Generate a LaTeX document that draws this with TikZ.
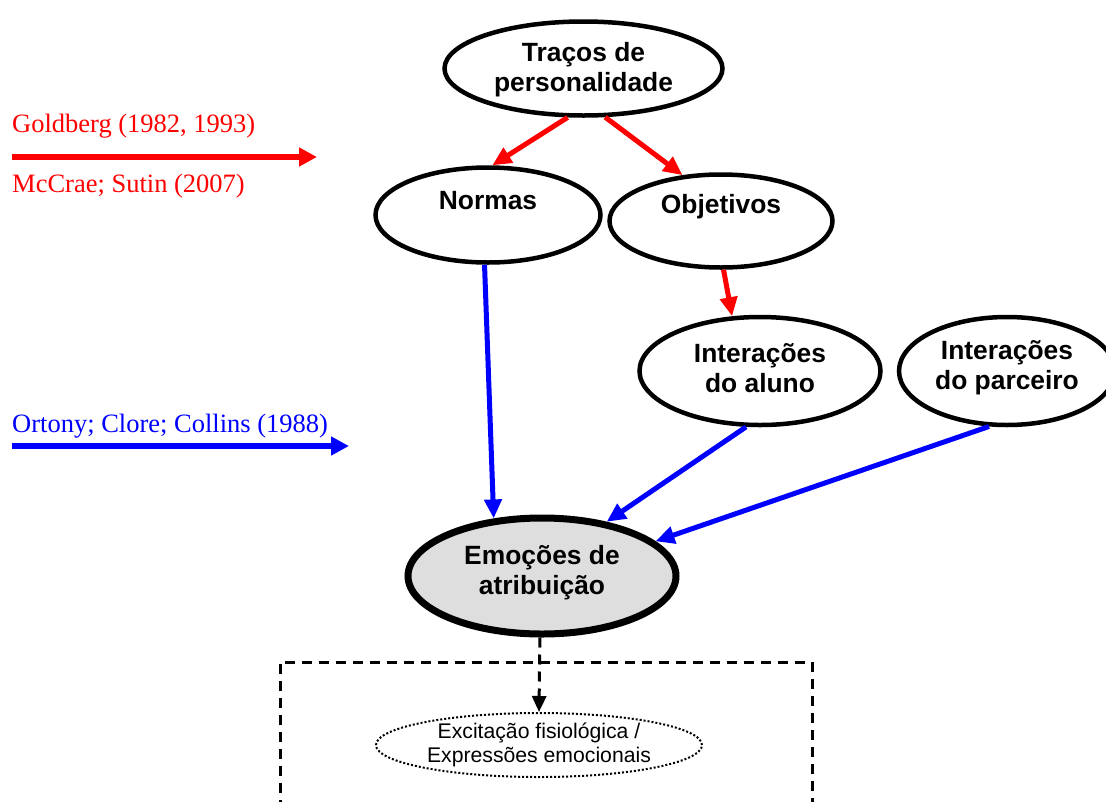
\documentclass[tikz,border=0pt]{standalone}
\usepackage{fontspec}
\setmainfont{Liberation Serif}
\setsansfont{Liberation Sans}
\usetikzlibrary{arrows.meta,shapes.geometric}
\begin{document}
\begin{tikzpicture}[x=1pt,y=-1pt,
  oval/.style={ellipse, draw=black, line width=4.5pt, fill=white, inner sep=0pt},
  lbl/.style={font=\fontsize{26.4}{30}\selectfont\sffamily\bfseries, align=center, inner sep=0pt},
  conn/.style={line width=5pt, -{Triangle[length=19pt,width=17pt]}},
  redarrow/.style={conn, draw=red, fill=red},
  bluearrow/.style={conn, draw=blue, fill=blue},
  legendarrow/.style={line width=6pt, -{Triangle[length=18pt,width=18pt]}},
  reftext/.style={font=\fontsize{26.5}{30}\selectfont, inner sep=0pt, anchor=base west},
  note/.style={font=\fontsize{21.2}{24}\selectfont\sffamily, align=center, inner sep=0pt},
]
\useasboundingbox (0,0) rectangle (1106,801);

% legend
\node[reftext, text=red] (gold) at (12,132) {Goldberg (1982, 1993)};
\node[reftext, text=red] (mcc) at (12,192) {McCrae; Sutin (2007)};
\coordinate (rs) at (12,157);
\coordinate (re) at (317,157);
\draw[legendarrow, draw=red, fill=red] (rs) -- (re);
\node[reftext, text=blue] (ort) at (12,432) {Ortony; Clore; Collins (1988)};
\coordinate (bs) at (12,446);
\coordinate (be) at (349,446);
\draw[legendarrow, draw=blue, fill=blue] (bs) -- (be);

% ovals
\node[oval, minimum width=278pt, minimum height=94pt] (traco) at (583.5,68.5) {};
\node[lbl] (tracot) at (583.5,70) {Traços de\\personalidade};
\node[oval, minimum width=225pt, minimum height=95pt] (normas) at (488,215) {};
\node[lbl] (normast) at (488,201) {Normas};
\node[oval, minimum width=223pt, minimum height=93pt] (obj) at (721,221) {};
\node[lbl] (objt) at (721,207) {Objetivos};
\node[oval, minimum width=241pt, minimum height=108pt] (aluno) at (760,371) {};
\node[lbl] (alunot) at (760,368) {Interações\\do aluno};
\node[oval, minimum width=216pt, minimum height=108pt] (parc) at (1007,371) {};
\node[lbl] (parct) at (1007,368) {Interações\\do parceiro};
\node[ellipse, draw=black, line width=7pt, fill=black!13, inner sep=0pt,
      minimum width=268pt, minimum height=116pt] (emo) at (542,576) {};
\node[lbl] (emot) at (542,573) {Emoções de\\atribuição};

% dashed frame and dotted oval
\draw[line width=3pt, dash pattern=on 10pt off 7pt] (280,810) -- (280,662) -- (812,662) -- (812,810);
\node[ellipse, draw=black, line width=2pt, dotted, inner sep=0pt,
      minimum width=326pt, minimum height=64pt, fill=white] (phys) at (539,745) {};
\node[note] (physt) at (539,745) {Excitação fisiológica /\\Expressões emocionais};

% connectors
\draw[redarrow] (traco.-108) -- (normas.85);
\draw[redarrow] (traco.-66) -- (obj.130);
\draw[redarrow] (obj.-87) -- (aluno.117);
\draw[bluearrow] (normas.-94) -- (emo.130);
\draw[bluearrow] (aluno.-104) -- (emo.40);
\draw[bluearrow] (parc.-108) -- (emo.17);
\draw[line width=3pt, dash pattern=on 10pt off 7pt, -{Triangle[length=16pt,width=14pt]}] (emo.-92) -- (phys.north);
\end{tikzpicture}
\end{document}
